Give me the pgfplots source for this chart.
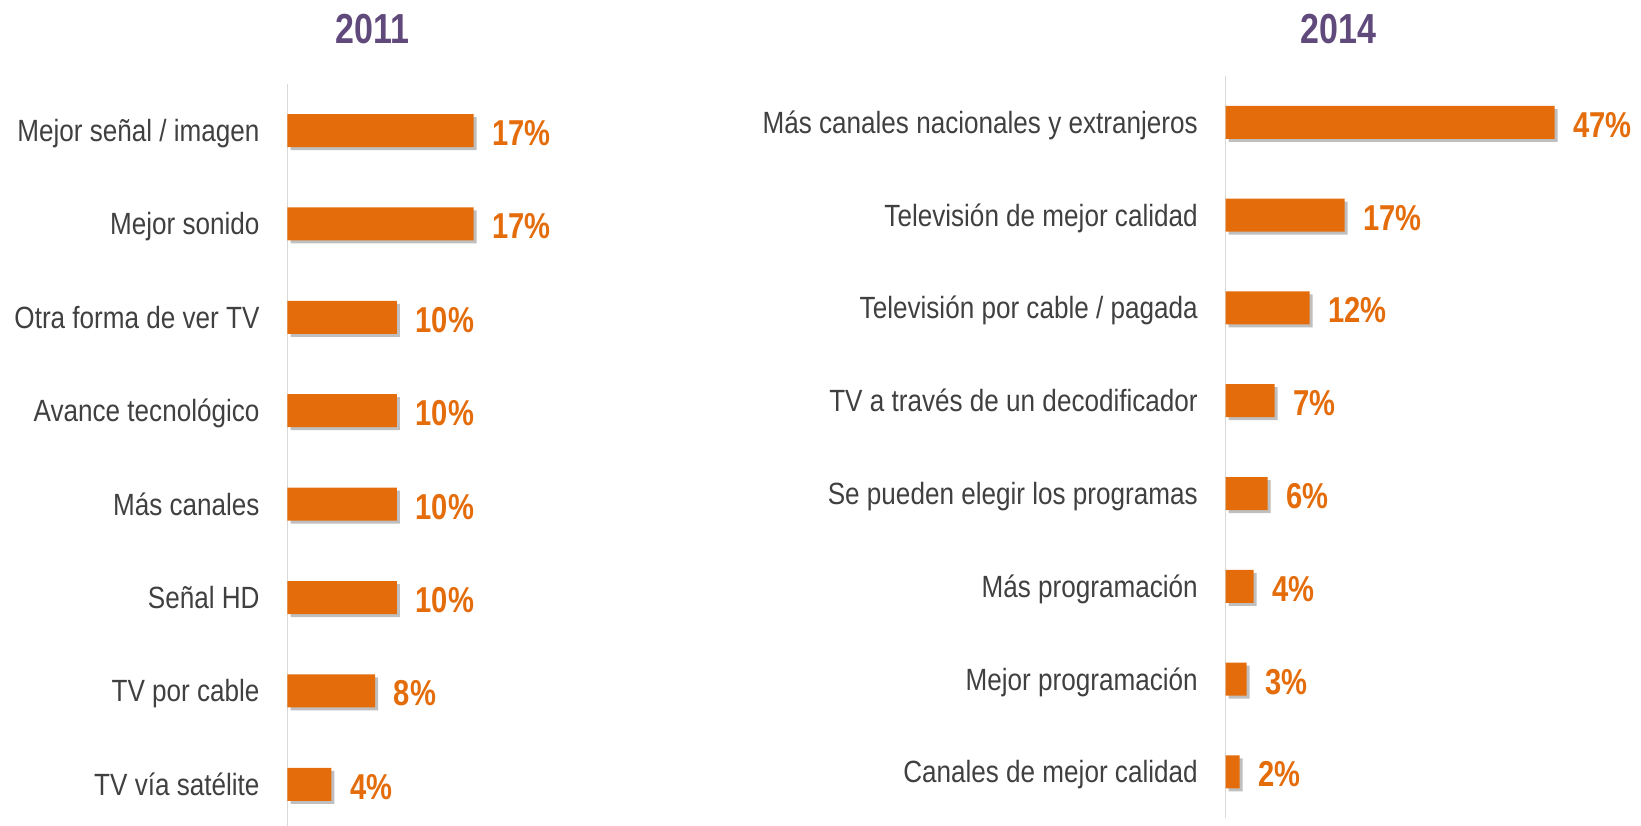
\documentclass[border=0pt]{standalone}
\usepackage{fontspec}
\setmainfont{Liberation Sans}[FakeStretch=0.85]
\newfontfamily\valfont{Liberation Sans}[FakeStretch=0.81]
\usepackage{pgfplots}
\pgfplotsset{compat=1.18}
\usetikzlibrary{shadows}
\definecolor{barorange}{HTML}{E46C0A}
\definecolor{titlepurple}{HTML}{604A7B}
\definecolor{labelgray}{HTML}{404040}
\definecolor{axisgray}{HTML}{D9D9D9}
\pgfplotsset{
  mybars/.style={
    xbar, y dir=reverse, scale only axis,
    axis x line=none, axis y line*=left,
    y axis line style={draw=axisgray, line width=1.5pt},
    ytick={0,...,7}, ytick style={draw=none},
    ymin=-0.5, ymax=7.5, xmin=0,
    clip=false, bar width=33pt,
    yticklabel style={font=\fontsize{30.7}{36}\selectfont, text=labelgray,
      text depth=0pt, text height=22pt, inner sep=0pt, anchor=east, xshift=-23.5pt},
    point meta=x,
    /pgf/number format/assume math mode=true,
    nodes near coords={\pgfmathprintnumber{\pgfplotspointmeta}\%},
    nodes near coords style={font=\valfont\bfseries\fontsize{36}{40}\selectfont,
      text=barorange, anchor=west, inner sep=0pt, xshift=18.5pt, yshift=-2pt,
      text depth=0pt, text height=26pt},
  }
}
\begin{document}
\begin{tikzpicture}
\path[use as bounding box] (0pt,0pt) rectangle (1641pt,-826pt);
\node[font=\valfont\bfseries\fontsize{42}{46}\selectfont, text=titlepurple,
  text depth=0pt, text height=30pt, inner sep=0pt] at (372.5pt,-28.3pt) {2011};
\node[font=\valfont\bfseries\fontsize{42}{46}\selectfont, text=titlepurple,
  text depth=0pt, text height=30pt, inner sep=0pt] at (1338.3pt,-28.3pt) {2014};
\begin{axis}[mybars, at={(287.5pt,-83.8pt)}, anchor=north west,
  width=219pt, height=747.2pt, xmax=20,
  yticklabels={Mejor señal / imagen, Mejor sonido, Otra forma de ver TV, Avance tecnológico, Más canales, Señal HD, TV por cable, TV vía satélite}]
\addplot[fill=barorange, draw=none,
  drop shadow={shadow xshift=3pt, shadow yshift=-3pt, fill=black, opacity=0.25}]
  coordinates {(17,0) (17,1) (10,2) (10,3) (10,4) (10,5) (8,6) (4,7)};
\end{axis}
\begin{axis}[mybars, at={(1225.7pt,-75.9pt)}, anchor=north west,
  width=350pt, height=742.4pt, xmax=50,
  yticklabels={Más canales nacionales y extranjeros, Televisión de mejor calidad, Televisión por cable / pagada, TV a través de un decodificador, Se pueden elegir los programas, Más programación, Mejor programación, Canales de mejor calidad}]
\addplot[fill=barorange, draw=none,
  drop shadow={shadow xshift=3pt, shadow yshift=-3pt, fill=black, opacity=0.25}]
  coordinates {(47,0) (17,1) (12,2) (7,3) (6,4) (4,5) (3,6) (2,7)};
\end{axis}
\end{tikzpicture}
\end{document}
